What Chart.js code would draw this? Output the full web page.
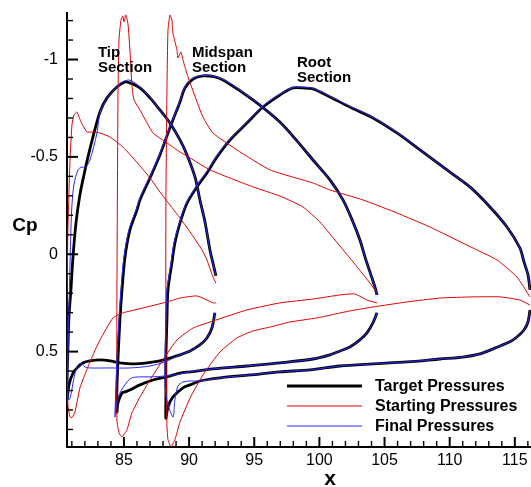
<!DOCTYPE html>
<html><head><meta charset="utf-8">
<script src="https://cdn.jsdelivr.net/npm/chart.js@4.4.1/dist/chart.umd.min.js"></script>
<style>html,body{margin:0;padding:0;background:#fff;overflow:hidden}</style>
</head><body><canvas id="c" width="531" height="487"></canvas>
<script>
// ---- tick labels ----
const xTicks = [85, 90, 95, 100, 105, 110, 115];
const yTicks = [-1, -0.5, 0, 0.5];
const seriesNames = ['Target Pressures', 'Starting Pressures', 'Final Pressures'];
const sectionNames = [['Tip', 'Section'], ['Midspan', 'Section'], ['Root', 'Section']];

// ---- Tip section (x, Cp) ----
const tipTarget = [[92.06,0.111],[91.83,0.045],[91.60,-0.022],[91.22,-0.166],[90.83,-0.279],[90.45,-0.397],[89.84,-0.510],[89.30,-0.587],[88.53,-0.674],[87.76,-0.741],[87.00,-0.803],[86.23,-0.854],[85.46,-0.880],[85.08,-0.885],[84.46,-0.859],[83.70,-0.803],[83.16,-0.731],[82.62,-0.602],[82.24,-0.500],[81.93,-0.407],[81.62,-0.305],[81.32,-0.161],[81.09,0.014],[80.93,0.183],[80.78,0.322],[80.70,0.492],[80.63,0.646],[80.63,0.748],[80.78,0.671],[81.09,0.610],[81.47,0.579],[81.85,0.558],[82.39,0.548],[83.16,0.543],[83.93,0.548],[84.69,0.558],[85.69,0.563],[86.77,0.558],[87.76,0.548],[88.53,0.533],[89.30,0.517],[90.07,0.497],[90.83,0.466],[91.37,0.430],[91.75,0.379],[91.98,0.301]];
const tipStart = [[92.06,0.148],[91.83,0.117],[91.37,0.029],[90.99,-0.022],[90.07,-0.115],[89.30,-0.186],[88.53,-0.253],[87.76,-0.320],[87.00,-0.392],[86.23,-0.454],[84.92,-0.551],[83.93,-0.602],[83.16,-0.623],[82.62,-0.628],[82.16,-0.628],[81.78,-0.669],[81.55,-0.705],[81.39,-0.731],[81.16,-0.715],[81.01,-0.664],[80.86,-0.484],[80.70,-0.125],[80.63,0.235],[80.63,0.646],[80.70,0.774],[80.86,0.836],[81.01,0.840],[81.24,0.810],[81.62,0.687],[82.08,0.605],[82.62,0.517],[83.16,0.440],[84.16,0.327],[84.92,0.301],[86.46,0.276],[88.30,0.245],[89.30,0.225],[90.60,0.214],[91.37,0.235],[91.83,0.250],[92.06,0.250]];
const tipFinal = [[92.06,0.111],[91.83,0.045],[91.60,-0.022],[91.22,-0.166],[90.83,-0.279],[90.45,-0.397],[89.84,-0.510],[89.30,-0.587],[88.53,-0.674],[87.76,-0.741],[87.00,-0.805],[86.23,-0.860],[85.61,-0.890],[85.31,-0.895],[84.92,-0.885],[84.54,-0.864],[83.77,-0.808],[83.16,-0.725],[82.93,-0.623],[82.39,-0.484],[82.01,-0.443],[81.78,-0.448],[81.47,-0.433],[81.16,-0.356],[81.01,-0.253],[80.93,-0.125],[80.86,0.055],[80.78,0.286],[80.70,0.543],[80.70,0.722],[80.78,0.748],[80.93,0.722],[81.09,0.661],[81.32,0.594],[81.55,0.563],[81.78,0.563],[82.01,0.579],[82.39,0.584],[83.93,0.584],[85.46,0.584],[87.00,0.574],[88.15,0.553],[89.30,0.517],[90.07,0.497],[90.83,0.466],[91.37,0.430],[91.75,0.379],[91.98,0.301]];

// ---- Midspan section ----
const midTarget = [[104.42,0.209],[104.26,0.168],[103.96,0.107],[103.57,0.029],[103.11,-0.073],[102.58,-0.166],[101.81,-0.279],[100.81,-0.382],[99.51,-0.484],[98.28,-0.582],[96.97,-0.679],[94.90,-0.793],[92.75,-0.890],[91.98,-0.911],[91.06,-0.916],[90.30,-0.900],[89.68,-0.854],[89.30,-0.782],[88.61,-0.664],[87.76,-0.510],[87.00,-0.392],[86.23,-0.279],[86.00,-0.227],[85.46,-0.125],[85.08,0.014],[84.85,0.183],[84.69,0.337],[84.54,0.543],[84.46,0.697],[84.46,0.810],[84.54,0.764],[84.85,0.713],[85.08,0.707],[85.46,0.697],[86.23,0.671],[87.23,0.646],[88.30,0.630],[89.30,0.610],[90.07,0.604],[91.83,0.589],[94.44,0.574],[96.97,0.558],[99.51,0.538],[100.81,0.517],[101.58,0.497],[102.34,0.476],[103.11,0.440],[103.65,0.404],[104.11,0.353],[104.42,0.301]];
const midStart = [[104.42,0.199],[103.88,0.148],[103.27,0.096],[102.34,0.019],[101.19,-0.073],[100.04,-0.166],[98.74,-0.243],[96.97,-0.299],[94.90,-0.346],[91.60,-0.433],[90.07,-0.495],[89.30,-0.525],[88.30,-0.572],[87.23,-0.623],[86.23,-0.741],[85.77,-0.793],[85.61,-0.869],[85.46,-1.049],[85.31,-1.183],[85.15,-1.229],[85.00,-1.193],[84.92,-1.224],[84.77,-1.203],[84.62,-1.100],[84.54,-0.793],[84.46,0.235],[84.46,0.851],[84.62,0.918],[84.85,0.938],[85.23,0.902],[85.61,0.815],[86.23,0.733],[87.00,0.646],[87.99,0.543],[89.07,0.440],[90.30,0.379],[91.83,0.343],[94.44,0.286],[96.97,0.250],[99.51,0.230],[101.58,0.209],[102.73,0.204],[103.65,0.235],[104.42,0.250]];
const midFinal = [[104.42,0.209],[104.26,0.168],[103.96,0.107],[103.57,0.029],[103.11,-0.073],[102.58,-0.166],[101.81,-0.279],[100.81,-0.382],[99.51,-0.484],[98.28,-0.582],[96.97,-0.679],[94.90,-0.795],[92.75,-0.893],[91.98,-0.913],[91.06,-0.918],[90.30,-0.905],[89.68,-0.860],[89.30,-0.788],[88.61,-0.670],[87.76,-0.518],[87.00,-0.400],[86.23,-0.290],[85.92,-0.227],[85.38,-0.125],[85.00,0.014],[84.77,0.183],[84.62,0.337],[84.46,0.543],[84.38,0.697],[84.31,0.836],[84.46,0.759],[84.69,0.713],[85.23,0.656],[85.61,0.635],[86.23,0.630],[87.00,0.630],[88.15,0.625],[89.30,0.615],[90.07,0.604],[91.83,0.589],[94.44,0.574],[96.97,0.558],[99.51,0.538],[100.81,0.517],[101.58,0.497],[102.34,0.476],[103.11,0.440],[103.65,0.404],[104.11,0.353],[104.42,0.301]];

// ---- Root section ----
const rootTarget = [[116.16,0.183],[116.01,0.106],[115.70,0.039],[115.39,-0.032],[114.40,-0.140],[113.09,-0.243],[111.55,-0.346],[109.79,-0.433],[107.72,-0.536],[105.95,-0.623],[104.11,-0.700],[102.34,-0.756],[100.81,-0.808],[99.51,-0.849],[98.74,-0.854],[97.97,-0.854],[96.97,-0.818],[95.67,-0.756],[94.44,-0.674],[93.14,-0.587],[92.14,-0.500],[91.37,-0.418],[90.60,-0.346],[89.84,-0.263],[89.30,-0.161],[88.91,-0.058],[88.68,0.045],[88.38,0.183],[88.30,0.337],[88.22,0.543],[88.22,0.723],[88.22,0.842],[88.38,0.785],[88.76,0.733],[89.53,0.686],[90.07,0.671],[90.83,0.651],[92.37,0.635],[94.67,0.620],[96.97,0.604],[99.28,0.594],[101.58,0.574],[104.11,0.563],[106.72,0.553],[109.25,0.538],[111.02,0.528],[112.32,0.512],[113.86,0.471],[114.62,0.450],[115.16,0.425],[115.70,0.389],[116.01,0.348],[116.16,0.286]];
const rootStart = [[116.16,0.219],[115.16,0.117],[113.63,0.029],[112.09,-0.022],[108.48,-0.140],[105.95,-0.212],[103.34,-0.279],[100.81,-0.330],[99.51,-0.366],[96.21,-0.433],[93.67,-0.536],[91.83,-0.623],[91.06,-0.705],[89.91,-0.911],[89.53,-0.998],[89.37,-1.039],[89.14,-1.008],[89.07,-1.049],[88.76,-1.136],[88.68,-1.203],[88.53,-1.229],[88.38,-1.152],[88.30,-0.844],[88.22,-0.279],[88.22,0.492],[88.30,0.877],[88.38,0.953],[88.61,0.989],[88.91,0.953],[89.30,0.862],[90.07,0.739],[91.06,0.620],[92.37,0.502],[93.67,0.430],[94.90,0.394],[96.21,0.374],[97.74,0.348],[99.81,0.327],[102.34,0.291],[104.11,0.271],[106.72,0.245],[109.25,0.225],[111.79,0.219],[113.86,0.219],[115.39,0.235],[116.16,0.261]];
const rootFinal = [[116.16,0.183],[116.01,0.106],[115.70,0.039],[115.39,-0.032],[114.40,-0.140],[113.09,-0.243],[111.55,-0.346],[109.79,-0.433],[107.72,-0.536],[105.95,-0.625],[104.11,-0.703],[102.34,-0.760],[100.81,-0.812],[99.51,-0.852],[98.74,-0.858],[97.97,-0.856],[96.97,-0.822],[95.67,-0.762],[94.44,-0.680],[93.14,-0.592],[92.14,-0.505],[91.37,-0.425],[90.60,-0.352],[89.84,-0.270],[89.30,-0.170],[88.84,-0.058],[88.61,0.045],[88.30,0.183],[88.22,0.337],[88.15,0.543],[88.22,0.723],[88.76,0.836],[88.91,0.748],[89.15,0.676],[89.53,0.656],[90.07,0.651],[90.83,0.651],[92.37,0.635],[94.67,0.620],[96.97,0.604],[99.28,0.594],[101.58,0.574],[104.11,0.563],[106.72,0.553],[109.25,0.538],[111.02,0.528],[112.32,0.512],[113.86,0.471],[114.62,0.450],[115.16,0.425],[115.70,0.389],[116.01,0.348],[116.16,0.286]];

const COLORS = { target: '#000000', start: '#e00000', final: '#2a2aff' };
const FONT = '"Liberation Sans", Arial, Helvetica, sans-serif';

function pts(a) { return a.map(p => ({ x: p[0], y: p[1] })); }
function ds(arr, color, width, order, tension) {
  return { data: pts(arr), borderColor: color, borderWidth: width, showLine: true, pointRadius: 0, fill: false, order: order, tension: tension };
}
const datasets = [
  ds(tipTarget, COLORS.target, 2.8, 3, 0.3), ds(midTarget, COLORS.target, 2.8, 3, 0.3), ds(rootTarget, COLORS.target, 2.8, 3, 0.3),
  ds(tipStart, COLORS.start, 1, 2, 0.15), ds(midStart, COLORS.start, 1, 2, 0.15), ds(rootStart, COLORS.start, 1, 2, 0.15),
  ds(tipFinal, COLORS.final, 1, 1, 0.3), ds(midFinal, COLORS.final, 1, 1, 0.3), ds(rootFinal, COLORS.final, 1, 1, 0.3)
];

const decor = {
  id: 'decor',
  afterDraw(chart) {
    const { ctx, chartArea: a, scales: { x, y } } = chart;
    ctx.save();
    ctx.strokeStyle = '#000';
    // inward ticks, x axis
    for (let v = Math.ceil(x.min); v <= x.max; v++) {
      const px = x.getPixelForValue(v);
      const major = xTicks.includes(v);
      ctx.lineWidth = major ? 2 : 1.4;
      ctx.beginPath(); ctx.moveTo(px, a.bottom); ctx.lineTo(px, a.bottom - (major ? 10 : 6)); ctx.stroke();
    }
    // inward ticks, y axis
    for (let k = Math.ceil(y.min * 10); k <= Math.floor(y.max * 10); k++) {
      const v = k / 10;
      const py = y.getPixelForValue(v);
      const major = k % 5 === 0;
      ctx.lineWidth = major ? 2 : 1.4;
      ctx.beginPath(); ctx.moveTo(a.left, py); ctx.lineTo(a.left + (major ? 11 : 6), py); ctx.stroke();
    }
    // axis titles
    ctx.fillStyle = '#000';
    ctx.textAlign = 'center'; ctx.textBaseline = 'alphabetic';
    ctx.font = 'bold 19px ' + FONT;
    ctx.fillText('Cp', 25, 231);
    ctx.font = 'bold 21px ' + FONT;
    ctx.fillText('x', 330, 485);
    // section labels (anchored in data coordinates)
    const anchors = [[83.0, -1.013], [90.22, -1.013], [98.28, -0.962]];
    ctx.font = 'bold 15px ' + FONT; ctx.textAlign = 'left';
    sectionNames.forEach((lines, i) => {
      const px = x.getPixelForValue(anchors[i][0]);
      const py = y.getPixelForValue(anchors[i][1]);
      lines.forEach((t, j) => ctx.fillText(t, px, py + j * 15));
    });
    // legend
    const legColors = [COLORS.target, COLORS.start, COLORS.final];
    const legWidths = [3, 1, 1];
    ctx.font = 'bold 16px ' + FONT;
    seriesNames.forEach((name, i) => {
      const ly = a.bottom - 61 + i * 20;
      ctx.strokeStyle = legColors[i]; ctx.lineWidth = legWidths[i];
      ctx.beginPath(); ctx.moveTo(287, ly); ctx.lineTo(362, ly); ctx.stroke();
      ctx.fillStyle = '#000';
      ctx.fillText(name, 375, ly + 5);
    });
    ctx.restore();
  }
};

new Chart(document.getElementById('c'), {
  type: 'scatter',
  data: { datasets },
  options: {
    responsive: false, animation: false, devicePixelRatio: 1,
    layout: { padding: { top: 13, right: 0, left: 0, bottom: 0 } },
    plugins: { legend: { display: false }, tooltip: { enabled: false } },
    scales: {
      x: {
        type: 'linear', min: 80.63, max: 116.24, bounds: 'data',
        afterFit(s) { s.height = 40; s.paddingLeft = 0; s.paddingRight = 0; },
        afterBuildTicks(s) { s.ticks = xTicks.map(v => ({ value: v })); },
        ticks: { color: '#000', font: { family: FONT, size: 16 }, padding: 4, maxRotation: 0, autoSkip: false, callback: v => String(v) },
        grid: { display: false, drawTicks: false },
        border: { display: true, color: '#000', width: 2 }
      },
      y: {
        type: 'linear', reverse: true, min: -1.239, max: 0.99, bounds: 'data',
        afterFit(s) { s.width = 67; s.paddingTop = 0; s.paddingBottom = 0; },
        afterBuildTicks(s) { s.ticks = yTicks.map(v => ({ value: v })); },
        ticks: { color: '#000', font: { family: FONT, size: 16 }, padding: 9, autoSkip: false, callback: v => String(v) },
        grid: { display: false, drawTicks: false },
        border: { display: true, color: '#000', width: 2 }
      }
    }
  },
  plugins: [decor]
});
</script></body></html>
